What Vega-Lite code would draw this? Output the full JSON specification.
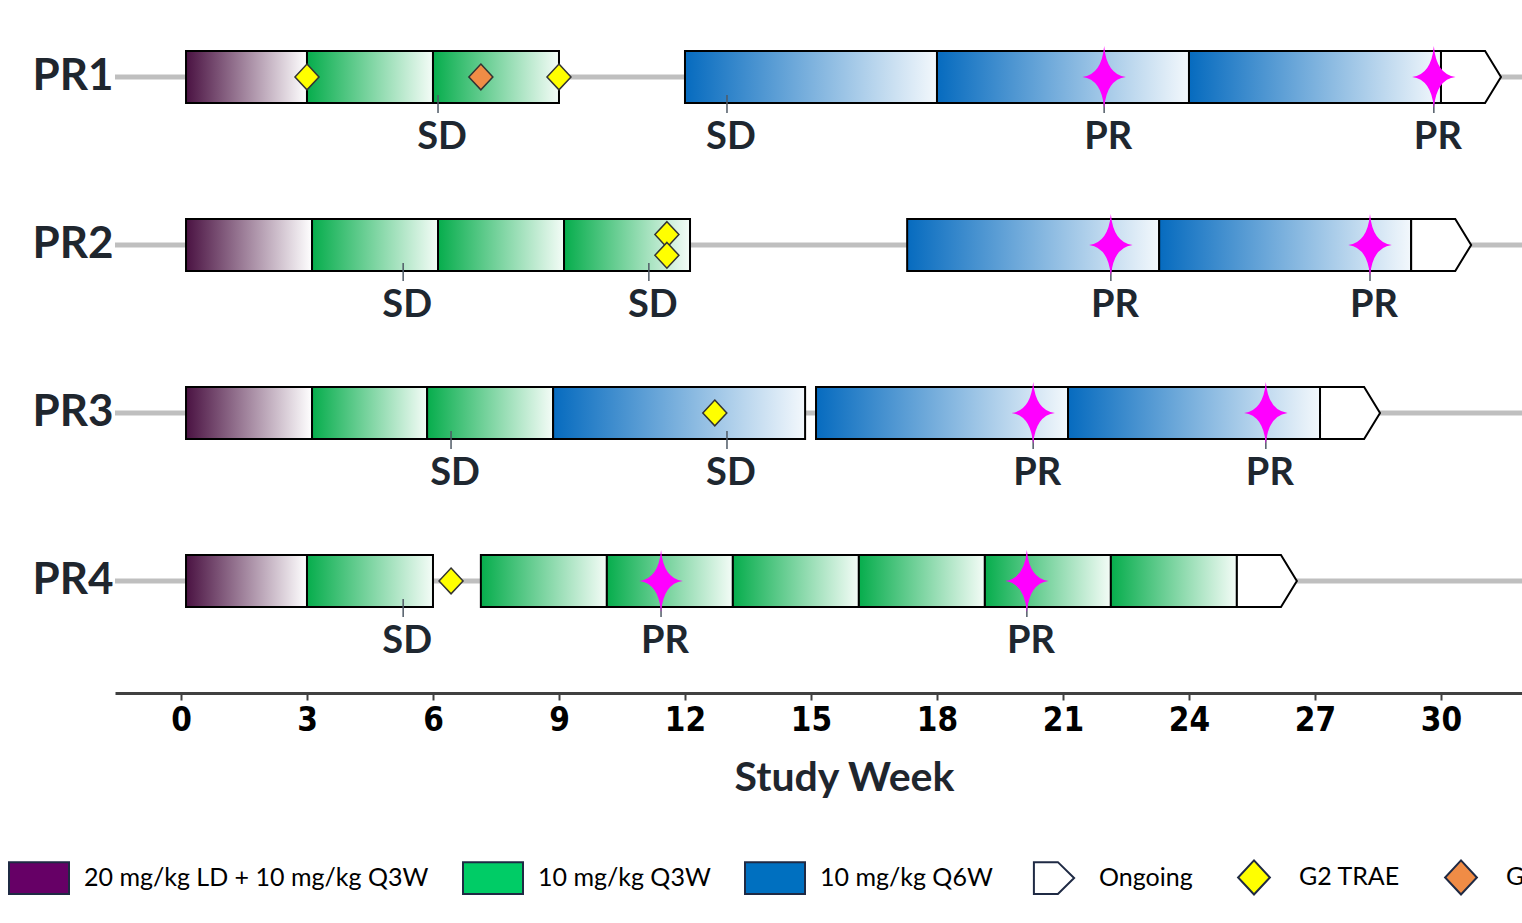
{
  "$schema": "https://vega.github.io/schema/vega-lite/v6.json",
  "width": 1407,
  "height": 693,
  "autosize": "none",
  "padding": {"left": 115, "top": 0, "right": 0, "bottom": 230},
  "background": "white",
  "config": {"view": {"stroke": null}, "font": "Lato"},
  "datasets": {
    "rows": [{"row": "PR1"}, {"row": "PR2"}, {"row": "PR3"}, {"row": "PR4"}],
    "segments": [
      {"row": "PR1", "start": 0.12, "end": 3.0, "dose": "LD"},
      {"row": "PR1", "start": 3.0, "end": 6.0, "dose": "Q3W"},
      {"row": "PR1", "start": 6.0, "end": 9.0, "dose": "Q3W"},
      {"row": "PR1", "start": 12.0, "end": 18.0, "dose": "Q6W"},
      {"row": "PR1", "start": 18.0, "end": 24.0, "dose": "Q6W"},
      {"row": "PR1", "start": 24.0, "end": 30.0, "dose": "Q6W"},
      {"row": "PR2", "start": 0.12, "end": 3.12, "dose": "LD"},
      {"row": "PR2", "start": 3.12, "end": 6.12, "dose": "Q3W"},
      {"row": "PR2", "start": 6.12, "end": 9.12, "dose": "Q3W"},
      {"row": "PR2", "start": 9.12, "end": 12.12, "dose": "Q3W"},
      {"row": "PR2", "start": 17.29, "end": 23.29, "dose": "Q6W"},
      {"row": "PR2", "start": 23.29, "end": 29.29, "dose": "Q6W"},
      {"row": "PR3", "start": 0.12, "end": 3.12, "dose": "LD"},
      {"row": "PR3", "start": 3.12, "end": 5.86, "dose": "Q3W"},
      {"row": "PR3", "start": 5.86, "end": 8.86, "dose": "Q3W"},
      {"row": "PR3", "start": 8.86, "end": 14.86, "dose": "Q6W"},
      {"row": "PR3", "start": 15.12, "end": 21.12, "dose": "Q6W"},
      {"row": "PR3", "start": 21.12, "end": 27.12, "dose": "Q6W"},
      {"row": "PR4", "start": 0.12, "end": 3.0, "dose": "LD"},
      {"row": "PR4", "start": 3.0, "end": 6.0, "dose": "Q3W"},
      {"row": "PR4", "start": 7.14, "end": 10.14, "dose": "Q3W"},
      {"row": "PR4", "start": 10.14, "end": 13.14, "dose": "Q3W"},
      {"row": "PR4", "start": 13.14, "end": 16.14, "dose": "Q3W"},
      {"row": "PR4", "start": 16.14, "end": 19.14, "dose": "Q3W"},
      {"row": "PR4", "start": 19.14, "end": 22.14, "dose": "Q3W"},
      {"row": "PR4", "start": 22.14, "end": 25.14, "dose": "Q3W"}
    ],
    "ongoing": [
      {"row": "PR1", "week": 30.0},
      {"row": "PR2", "week": 29.29},
      {"row": "PR3", "week": 27.12},
      {"row": "PR4", "week": 25.14}
    ],
    "events": [
      {"row": "PR1", "week": 3.0, "event": "G2 TRAE", "lane": "middle"},
      {"row": "PR1", "week": 7.14, "event": "G3 TRAE", "lane": "middle"},
      {"row": "PR1", "week": 9.0, "event": "G2 TRAE", "lane": "middle"},
      {"row": "PR2", "week": 11.57, "event": "G2 TRAE", "lane": "upper"},
      {"row": "PR2", "week": 11.57, "event": "G2 TRAE", "lane": "lower"},
      {"row": "PR3", "week": 12.71, "event": "G2 TRAE", "lane": "middle"},
      {"row": "PR4", "week": 6.43, "event": "G2 TRAE", "lane": "middle"}
    ],
    "responses": [
      {"row": "PR1", "week": 6.12, "resp": "SD"},
      {"row": "PR1", "week": 13.0, "resp": "SD"},
      {"row": "PR1", "week": 21.98, "resp": "PR"},
      {"row": "PR1", "week": 29.83, "resp": "PR"},
      {"row": "PR2", "week": 5.29, "resp": "SD"},
      {"row": "PR2", "week": 11.14, "resp": "SD"},
      {"row": "PR2", "week": 22.14, "resp": "PR"},
      {"row": "PR2", "week": 28.31, "resp": "PR"},
      {"row": "PR3", "week": 6.43, "resp": "SD"},
      {"row": "PR3", "week": 13.0, "resp": "SD"},
      {"row": "PR3", "week": 20.29, "resp": "PR"},
      {"row": "PR3", "week": 25.83, "resp": "PR"},
      {"row": "PR4", "week": 5.29, "resp": "SD"},
      {"row": "PR4", "week": 11.43, "resp": "PR"},
      {"row": "PR4", "week": 20.14, "resp": "PR"}
    ]
  },
  "encoding": {
    "y": {
      "field": "row",
      "type": "nominal",
      "scale": {"domain": ["PR1", "PR2", "PR3", "PR4"], "paddingInner": 0.6905, "paddingOuter": 0.4077, "align": 0.372},
      "axis": {"title": null, "domain": false, "ticks": false, "labelFont": "Lato", "labelFontWeight": "bold", "labelFontSize": 44, "labelColor": "#1f262e", "labelPadding": 2}
    }
  },
  "layer": [
    {
      "data": {"name": "rows"},
      "mark": {"type": "rule", "color": "#bfbfbf", "strokeWidth": 5},
      "encoding": {}
    },
    {
      "data": {"name": "segments"},
      "transform": [{"filter": "datum.dose === 'LD'"}],
      "mark": {"type": "bar", "stroke": "black", "strokeWidth": 2, "height": 52,
        "fill": {"gradient": "linear", "x1": 0, "x2": 1, "y1": 0, "y2": 0, "stops": [{"offset": 0, "color": "#4a1242"}, {"offset": 1, "color": "#ffffff"}]}},
      "encoding": {
        "x": {"field": "start", "type": "quantitative", "title": "Study Week",
          "scale": {"domain": [-1.571, 31.929], "nice": false, "zero": false},
          "axis": {"values": [0, 3, 6, 9, 12, 15, 18, 21, 24, 27, 30], "title": "Study Week", "grid": false,
            "domainColor": "#404040", "domainWidth": 3, "tickColor": "#404040", "tickWidth": 2, "tickSize": 7,
            "labelFont": "Liberation Sans Narrow, DejaVu Sans Condensed, sans-serif", "labelFontWeight": "bold", "labelFontSize": 33, "labelColor": "black", "labelPadding": 4,
            "titleFont": "Lato", "titleFontSize": 41, "titleFontWeight": "bold", "titleColor": "#1f262e", "titleX": 729, "titleY": 97, "titleBaseline": "alphabetic"}},
        "x2": {"field": "end"}
      }
    },
    {
      "data": {"name": "segments"},
      "transform": [{"filter": "datum.dose === 'Q3W'"}],
      "mark": {"type": "bar", "stroke": "black", "strokeWidth": 2, "height": 52,
        "fill": {"gradient": "linear", "x1": 0, "x2": 1, "y1": 0, "y2": 0, "stops": [{"offset": 0, "color": "#06ad4c"}, {"offset": 1, "color": "#f4fcf7"}]}},
      "encoding": {
        "x": {"field": "start", "type": "quantitative", "title": "Study Week"},
        "x2": {"field": "end"}
      }
    },
    {
      "data": {"name": "segments"},
      "transform": [{"filter": "datum.dose === 'Q6W'"}],
      "mark": {"type": "bar", "stroke": "black", "strokeWidth": 2, "height": 52,
        "fill": {"gradient": "linear", "x1": 0, "x2": 1, "y1": 0, "y2": 0, "stops": [{"offset": 0, "color": "#066bbf"}, {"offset": 1, "color": "#f3f8fc"}]}},
      "encoding": {
        "x": {"field": "start", "type": "quantitative", "title": "Study Week"},
        "x2": {"field": "end"}
      }
    },
    {
      "data": {"name": "ongoing"},
      "mark": {"type": "point", "filled": true, "fill": "white", "stroke": "black", "strokeWidth": 2, "opacity": 1, "size": 3600,
        "shape": "M0,-0.867H1.47L2,0L1.47,0.867H0Z"},
      "encoding": {
        "x": {"field": "week", "type": "quantitative", "title": "Study Week"}
      }
    },
    {
      "data": {"name": "responses"},
      "mark": {"type": "tick", "color": "#4f5a66", "thickness": 1.5, "size": 18, "yOffset": 27, "opacity": 1},
      "encoding": {
        "x": {"field": "week", "type": "quantitative", "title": "Study Week"}
      }
    },
    {
      "data": {"name": "events"},
      "mark": {"type": "point", "filled": true, "stroke": "#333333", "strokeWidth": 1.5, "opacity": 1, "size": 2052},
      "encoding": {
        "x": {"field": "week", "type": "quantitative", "title": "Study Week"},
        "yOffset": {"field": "lane", "type": "nominal", "scale": {"domain": ["top", "upper", "middle", "lower", "bottom"], "paddingInner": 0, "paddingOuter": 0.5}},
        "fill": {"field": "event", "type": "nominal",
          "scale": {"domain": ["20 mg/kg LD + 10 mg/kg Q3W", "10 mg/kg Q3W", "10 mg/kg Q6W", "Ongoing", "G2 TRAE", "G3 TRAE"],
            "range": ["#660066", "#00cc66", "#0070c0", "#ffffff", "#ffff00", "#f08c46"]},
          "legend": {"title": null, "orient": "none", "legendX": -107, "legendY": 846, "direction": "horizontal", "symbolSize": 3600,
            "symbolStrokeColor": "#222222", "symbolStrokeWidth": 2, "symbolOpacity": 1, "labelFont": "Lato", "labelFontSize": 25, "labelColor": "black",
            "labelOffset": 14, "columnPadding": 30, "padding": 0, "labelLimit": 600,
            "encode": {"symbols": {"update": {"stroke": {"value": "#1f2a44"}, "strokeWidth": {"value": 2}, "opacity": {"value": 1}}}}}},
        "shape": {"field": "event", "type": "nominal",
          "scale": {"domain": ["20 mg/kg LD + 10 mg/kg Q3W", "10 mg/kg Q3W", "10 mg/kg Q6W", "Ongoing", "G2 TRAE", "G3 TRAE"],
            "range": ["M-1,-0.53H1V0.53H-1Z", "M-1,-0.53H1V0.53H-1Z", "M-1,-0.53H1V0.53H-1Z", "M-0.67,-0.53H0.13L0.67,0L0.13,0.53H-0.67Z", "M0,-0.57L0.53,0L0,0.57L-0.53,0Z", "M0,-0.57L0.53,0L0,0.57L-0.53,0Z"]},
          "legend": {"title": null, "orient": "none", "legendX": -107, "legendY": 846, "direction": "horizontal", "symbolSize": 3600,
            "symbolStrokeColor": "#222222", "symbolStrokeWidth": 2, "symbolOpacity": 1, "labelFont": "Lato", "labelFontSize": 25, "labelColor": "black",
            "labelOffset": 14, "columnPadding": 30, "padding": 0, "labelLimit": 600,
            "encode": {"symbols": {"update": {"stroke": {"value": "#1f2a44"}, "strokeWidth": {"value": 2}, "opacity": {"value": 1}}}}}}
      }
    },
    {
      "data": {"name": "responses"},
      "transform": [{"filter": "datum.resp === 'PR'"}],
      "mark": {"type": "point", "filled": true, "fill": "#ff00ff", "strokeWidth": 0, "opacity": 1, "size": 3844,
        "shape": "M0,-1Q0.08,-0.08,0.7,0Q0.08,0.08,0,1Q-0.08,0.08,-0.7,0Q-0.08,-0.08,0,-1Z"},
      "encoding": {
        "x": {"field": "week", "type": "quantitative", "title": "Study Week"}
      }
    },
    {
      "data": {"name": "responses"},
      "mark": {"type": "text", "font": "Lato", "fontWeight": "bold", "fontSize": 38, "color": "#1e2730", "dy": 61, "dx": 4, "baseline": "middle", "align": "center"},
      "encoding": {
        "x": {"field": "week", "type": "quantitative", "title": "Study Week"},
        "text": {"field": "resp", "type": "nominal"}
      }
    }
  ]
}
